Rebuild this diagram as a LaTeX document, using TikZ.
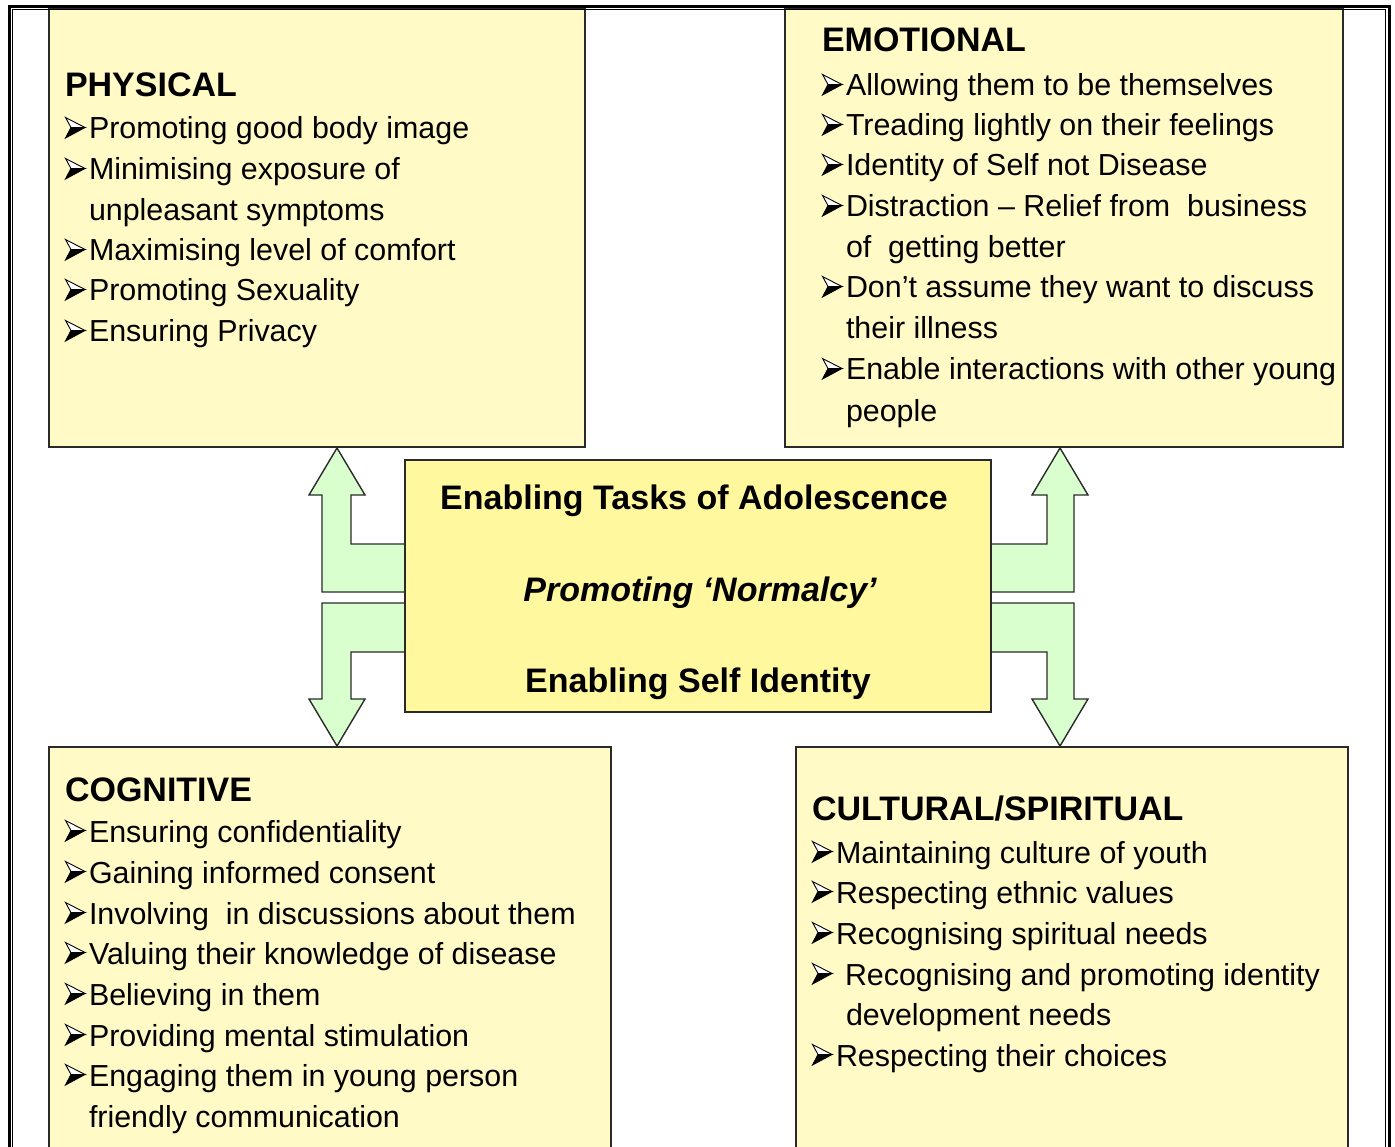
\documentclass[tikz,border=0pt]{standalone}
\usepackage{fontspec}
\setmainfont{Liberation Sans}
\definecolor{boxfill}{HTML}{FFFAC6}
\definecolor{centerfill}{HTML}{FFF89E}
\definecolor{arrowfill}{HTML}{D9FFCF}
\definecolor{edge}{HTML}{2A2A2A}
\newcommand{\bodyfont}{\fontsize{30.4}{36}\selectfont}
\newcommand{\headfont}{\bfseries\fontsize{34}{40}\selectfont}
\tikzset{
  panel/.style={draw=edge, line width=1.6pt, fill=boxfill, anchor=north west, inner sep=0, outer sep=0},
  centerbox/.style={draw=edge, line width=1.6pt, fill=centerfill, inner sep=0, outer sep=0},
  blockarrow/.style={draw=edge, line width=1.4pt, fill=arrowfill, line join=miter},
  txt/.style={anchor=base west, inner sep=0, outer sep=0, font=\bodyfont},
  headtxt/.style={anchor=base west, inner sep=0, outer sep=0, font=\headfont},
  ctxt/.style={anchor=base, inner sep=0, outer sep=0, font=\headfont},
  bulup/.style={fill=white, draw=black, line width=0.9pt, line join=miter},
  buldown/.style={fill=black, draw=black, line width=0.9pt, line join=miter},
}
\newcommand{\bulshape}[2]{%
  \begin{scope}[shift={(#1,#2)}]
    \filldraw[bulup] (0.5,-21.5) -- (20,-11.5) -- (6,-11.5) -- cycle;
    \filldraw[buldown] (6,-11.5) -- (20,-11.5) -- (0.5,-1) -- cycle;
  \end{scope}}
\newcommand{\bitem}[4]{\bulshape{#2}{#3}\node[txt] (#1) at (#2+24,#3) {#4};}
\newcommand{\citem}[4]{\node[txt] (#1) at (#2,#3) {#4};}
\begin{document}
\begin{tikzpicture}[x=1pt,y=-1pt]
\useasboundingbox (0,0) rectangle (1395,1147);
\fill[white] (0,0) rectangle (1395,1147);

% panels
\node[panel, minimum width=536pt, minimum height=438pt] (phys) at (49,9) {};
\node[panel, minimum width=558pt, minimum height=438pt] (emo) at (785,9) {};
\node[panel, minimum width=562pt, minimum height=420pt] (cog) at (49,747) {};
\node[panel, minimum width=552pt, minimum height=420pt] (cult) at (796,747) {};

% block arrows
\draw[blockarrow] (405,544) -- (351,544) -- (351,495) -- (365,495) -- (337,448) -- (309,495) -- (322,495) -- (322,592) -- (405,592);
\draw[blockarrow] (405,603) -- (322,603) -- (322,699) -- (309,699) -- (337,746) -- (365,699) -- (351,699) -- (351,652) -- (405,652);
\draw[blockarrow] (991,544) -- (1047,544) -- (1047,495) -- (1032,495) -- (1060,448) -- (1088,495) -- (1074,495) -- (1074,592) -- (991,592);
\draw[blockarrow] (991,603) -- (1074,603) -- (1074,699) -- (1088,699) -- (1060,746) -- (1032,699) -- (1047,699) -- (1047,652) -- (991,652);

% centre box
\node[centerbox, minimum width=586pt, minimum height=252pt] (centre) at (698,586) {};
\node[ctxt] (c1) at (694,509) {Enabling Tasks of Adolescence};
\node[ctxt] (c2) at (700,601) {\itshape Promoting ‘Normalcy’};
\node[ctxt] (c3) at (698,692) {Enabling Self Identity};

% PHYSICAL
\node[headtxt] (ph) at (65,97) {PHYSICAL};
\bitem{p1}{65}{139}{Promoting good body image}
\bitem{p2}{65}{180}{Minimising exposure of}
\citem{p2b}{89}{221}{unpleasant symptoms}
\bitem{p3}{65}{261}{Maximising level of comfort}
\bitem{p4}{65}{301}{Promoting Sexuality}
\bitem{p5}{65}{342}{Ensuring Privacy}

% EMOTIONAL
\node[headtxt] (eh) at (822,52) {EMOTIONAL};
\bitem{e1}{822}{96}{Allowing them to be themselves}
\bitem{e2}{822}{136}{Treading lightly on their feelings}
\bitem{e3}{822}{176}{Identity of Self not Disease}
\bitem{e4}{822}{217}{Distraction – Relief from \ business}
\citem{e4b}{846}{258}{of \ getting better}
\bitem{e5}{822}{298}{Don’t assume they want to discuss}
\citem{e5b}{846}{339}{their illness}
\bitem{e6}{822}{380}{Enable interactions with other young}
\citem{e6b}{846}{421}{people}

% COGNITIVE
\node[headtxt] (gh) at (65,801) {COGNITIVE};
\bitem{g1}{65}{842}{Ensuring confidentiality}
\bitem{g2}{65}{883}{Gaining informed consent}
\bitem{g3}{65}{924}{Involving \ in discussions about them}
\bitem{g4}{65}{964}{Valuing their knowledge of disease}
\bitem{g5}{65}{1005}{Believing in them}
\bitem{g6}{65}{1046}{Providing mental stimulation}
\bitem{g7}{65}{1086}{Engaging them in young person}
\citem{g7b}{89}{1127}{friendly communication}

% CULTURAL/SPIRITUAL
\node[headtxt] (uh) at (812,820) {CULTURAL/SPIRITUAL};
\bitem{u1}{812}{863}{Maintaining culture of youth}
\bitem{u2}{812}{903}{Respecting ethnic values}
\bitem{u3}{812}{944}{Recognising spiritual needs}
\bulshape{812}{985}
\citem{u4}{845}{985}{Recognising and promoting identity}
\citem{u4b}{846}{1025}{development needs}
\bitem{u5}{812}{1066}{Respecting their choices}

% frame
\draw[line width=3pt] (9,1160) -- (9,7) -- (1389,7) -- (1389,1160);
\draw[line width=1pt] (12.5,1160) -- (12.5,9.5) -- (1385.5,9.5) -- (1385.5,1160);
\end{tikzpicture}
\end{document}
